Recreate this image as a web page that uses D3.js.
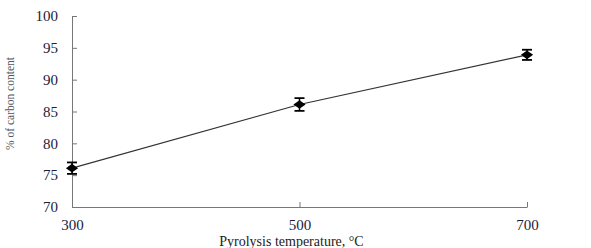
<!DOCTYPE html>
<html>
<head>
<meta charset="utf-8">
<script src="https://cdn.jsdelivr.net/npm/d3@7"></script>
<style>
  body { margin: 0; background: #fff; }
  text { font-family: "Liberation Serif", "Times New Roman", serif; }
</style>
</head>
<body>
<div id="chart"></div>
<script>
// data
var temps = [300, 500, 700];
var carbon = [76.1, 86.1, 93.9];
var errs = [0.9, 1.0, 0.8];
var xTicks = [300, 500, 700];
var yTicks = [70, 75, 80, 85, 90, 95, 100];

var W = 591, H = 248;
var margin = {top: 16, right: 64, bottom: 41, left: 72},
    width = W - margin.left - margin.right,
    height = H - margin.top - margin.bottom;

var svg = d3.select("#chart")
  .append("svg")
    .attr("width", W)
    .attr("height", H)
  .append("g")
    .attr("transform", "translate(" + margin.left + "," + margin.top + ")");

var x = d3.scaleLinear().domain([300, 700]).range([0, width]);
var y = d3.scaleLinear().domain([70, 100]).range([height, 0]);

// Y axis, ticks pointing inward
var yAxis = svg.append("g")
  .call(d3.axisLeft(y).tickValues(yTicks).tickSize(-5).tickSizeOuter(0).tickPadding(14));
yAxis.select(".domain").attr("stroke", "#777");
yAxis.selectAll(".tick line").attr("stroke", "#777");
yAxis.selectAll(".tick text")
  .attr("font-size", "15px")
  .attr("fill", "#1c1c3a")
  .style("font-family", "Liberation Serif, serif");

// X axis
var xAxis = svg.append("g")
  .attr("transform", "translate(0," + height + ")")
  .call(d3.axisBottom(x).tickValues(xTicks).tickSize(-5).tickSizeOuter(0).tickPadding(12));
xAxis.select(".domain").attr("stroke", "#777");
xAxis.selectAll(".tick line").attr("stroke", "#777");
xAxis.selectAll(".tick text")
  .attr("font-size", "15px")
  .attr("fill", "#1c1c3a")
  .style("font-family", "Liberation Serif, serif");

// labels
svg.append("text")
  .attr("x", width / 2 - 8)
  .attr("y", height + 39)
  .attr("text-anchor", "middle")
  .attr("font-size", "14px")
  .attr("fill", "#222")
  .text("Pyrolysis temperature, °C");

svg.append("text")
  .attr("transform", "rotate(-90)")
  .attr("x", -height / 2 + 8)
  .attr("y", -58)
  .attr("text-anchor", "middle")
  .attr("font-size", "11.5px")
  .attr("fill", "#555")
  .text("% of carbon content");

// line
var pts = temps.map(function(t, i) { return {t: t, v: carbon[i], e: errs[i]}; });
svg.append("path")
  .datum(pts)
  .attr("fill", "none")
  .attr("stroke", "#333")
  .attr("stroke-width", 1.2)
  .attr("d", d3.line().x(function(d) { return x(d.t); }).y(function(d) { return y(d.v); }));

// error bars
var eb = svg.selectAll(".err").data(pts).enter().append("g").attr("class", "err");
eb.append("line")
  .attr("x1", function(d) { return x(d.t); }).attr("x2", function(d) { return x(d.t); })
  .attr("y1", function(d) { return y(d.v - d.e); }).attr("y2", function(d) { return y(d.v + d.e); })
  .attr("stroke", "#000").attr("stroke-width", 1.5);
[-1, 1].forEach(function(s) {
  eb.append("line")
    .attr("x1", function(d) { return x(d.t) - 5; }).attr("x2", function(d) { return x(d.t) + 5; })
    .attr("y1", function(d) { return y(d.v + s * d.e); }).attr("y2", function(d) { return y(d.v + s * d.e); })
    .attr("stroke", "#000").attr("stroke-width", 1.8);
});

// markers (diamond a bit wider than tall)
svg.selectAll(".pt").data(pts).enter().append("path")
  .attr("class", "pt")
  .attr("transform", function(d) { return "translate(" + x(d.t) + "," + y(d.v) + ") scale(1.25,0.9)"; })
  .attr("d", d3.symbol().type(d3.symbolDiamond2).size(60))
  .attr("fill", "#000");
</script>
</body>
</html>
